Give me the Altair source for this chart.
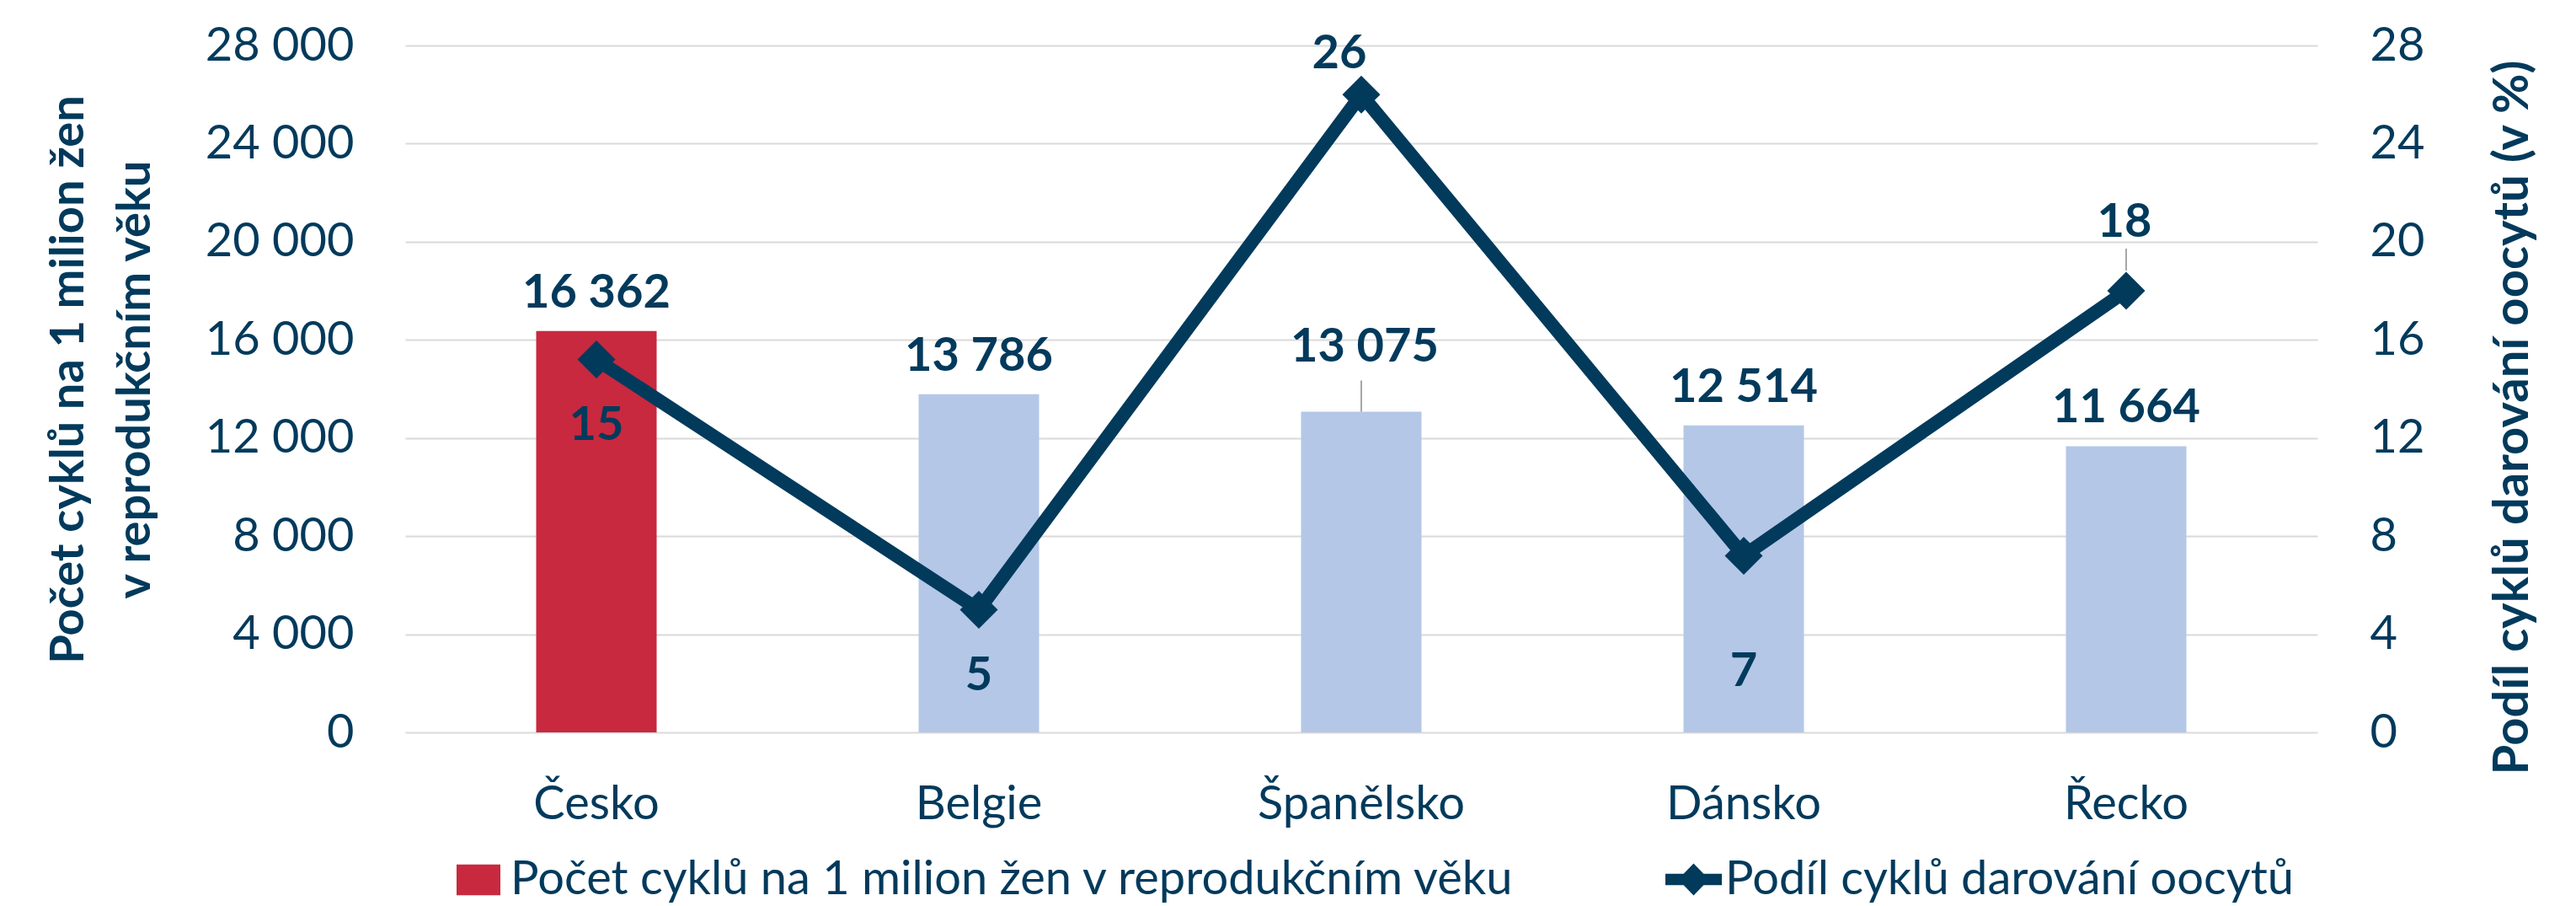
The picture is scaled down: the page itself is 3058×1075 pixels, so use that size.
import altair as alt
import pandas as pd

# ---- data ----
COUNTRIES = ["Česko", "Belgie", "Španělsko", "Dánsko", "Řecko"]
CYCLES = [16362, 13786, 13075, 12514, 11664]
DONOR_SHARE = [15.2, 5.0, 26.0, 7.2, 18.0]
LEFT_TICKS = [0, 4000, 8000, 12000, 16000, 20000, 24000, 28000]
RIGHT_TICKS = [0, 4, 8, 12, 16, 20, 24, 28]
BAR_SERIES = "Počet cyklů na 1 milion žen v reprodukčním věku"
LINE_SERIES = "Podíl cyklů darování oocytů"
LEFT_TITLE = ["Počet cyklů na 1 milion žen", "v reprodukčním věku"]
RIGHT_TITLE = "Podíl cyklů darování oocytů (v %)"

# ---- styles ----
NAVY = "#023A5C"
RED = "#C8293F"
LIGHT_BLUE = "#B4C7E7"
GRID = "#D9D9D9"
LEADER = "#A6A6A6"
FONT = "Lato"
FS = 56

df = pd.DataFrame({
    "country": COUNTRIES,
    "cycles": CYCLES,
    "share": DONOR_SHARE,
    "bar_series": [BAR_SERIES] * len(COUNTRIES),
    "line_series": [LINE_SERIES] * len(COUNTRIES),
})

base = alt.Chart(df)

x_enc = alt.X(
    "country:N", sort=COUNTRIES,
    scale=alt.Scale(paddingInner=0, paddingOuter=0),
    axis=alt.Axis(title=None, labelAngle=0, ticks=False, domain=False,
                  labelFont=FONT, labelFontSize=FS, labelColor=NAVY, labelLimit=1000,
                  labelBaseline="alphabetic", labelPadding=102, grid=False),
)

y_left_enc = alt.Y(
    "cycles:Q", scale=alt.Scale(domain=[0, 28000], nice=False, zero=True),
    axis=alt.Axis(
        values=LEFT_TICKS, labelExpr="replace(format(datum.value, ','), ',', ' ')",
        grid=True, gridColor=GRID, gridWidth=2, ticks=False, domain=False,
        labelFont=FONT, labelFontSize=FS, labelColor=NAVY, labelPadding=61,
        title=LEFT_TITLE, titleFont=FONT, titleFontSize=FS, titleFontWeight="bold",
        titleColor=NAVY, titleAngle=270, titleAlign="center", titleBaseline="middle",
        titleX=-400, titleY=396, titleLineHeight=79),
)

y_right_enc = alt.Y(
    "share:Q", scale=alt.Scale(domain=[0, 28], nice=False, zero=True),
    axis=alt.Axis(
        orient="right", values=RIGHT_TICKS, grid=False, ticks=False, domain=False,
        labelFont=FONT, labelFontSize=FS, labelColor=NAVY, labelPadding=62,
        title=RIGHT_TITLE, titleFont=FONT, titleFontSize=58, titleFontWeight="bold",
        titleColor=NAVY, titleAngle=270, titleAlign="center", titleBaseline="middle",
        titleX=232, titleY=441),
)

bars = base.mark_bar(size=143).encode(
    x=x_enc,
    y=y_left_enc,
    color=alt.condition(
        alt.datum.country == COUNTRIES[0],
        alt.Color("bar_series:N", scale=alt.Scale(domain=[BAR_SERIES], range=[RED]),
                  legend=alt.Legend(orient="none", legendX=59, legendY=962, title=None,
                                    symbolType="M-1,-0.7H1V0.7H-1Z", symbolSize=2704,
                                    symbolStrokeWidth=0, symbolOpacity=1, padding=0,
                                    labelFont=FONT, labelFontSize=FS, labelColor=NAVY,
                                    labelOffset=10, labelLimit=3000)),
        alt.value(LIGHT_BLUE),
    ),
)

bar_text = base.transform_calculate(label="replace(format(datum.cycles, ','), ',', ' ')")
txt_style = dict(font=FONT, fontSize=FS, fontWeight="bold", color=NAVY, baseline="alphabetic")

bar_labels = bar_text.transform_filter(alt.datum.country != COUNTRIES[2]).mark_text(
    dy=-28, **txt_style).encode(x=x_enc, y=y_left_enc, text="label:N")
spain_label = bar_text.transform_filter(alt.datum.country == COUNTRIES[2]).mark_text(
    dy=-59, dx=4, **txt_style).encode(x=x_enc, y=y_left_enc, text="label:N")
spain_leader = base.transform_filter(alt.datum.country == COUNTRIES[2]).mark_rule(
    color=LEADER, strokeWidth=2, y2Offset=-37).encode(x=x_enc, y=y_left_enc, y2="cycles:Q")

left_group = alt.layer(bars, spain_leader, bar_labels, spain_label)

line = base.mark_line(color=NAVY, strokeWidth=16).encode(x=x_enc, y=y_right_enc)

points = base.mark_point(shape="diamond", size=2025, filled=True, opacity=1).encode(
    x=x_enc,
    y=y_right_enc,
    fill=alt.Fill("line_series:N", scale=alt.Scale(domain=[LINE_SERIES], range=[NAVY]),
                  legend=alt.Legend(orient="none", legendX=1496, legendY=956, title=None,
                                    symbolType="M-1,-0.2H1V0.2H-1Z M-0.55,0L0,-0.57L0.55,0L0,0.57Z",
                                    symbolSize=4489, symbolStrokeWidth=0, symbolOpacity=1,
                                    padding=0, labelFont=FONT, labelFontSize=FS,
                                    labelColor=NAVY, labelOffset=4, labelLimit=3000)),
)

# label offsets (dx, dy) per point, as placed in the original
label_offsets = [(COUNTRIES[0], 0, 95), (COUNTRIES[1], 0, 96), (COUNTRIES[2], -26, -31),
                 (COUNTRIES[3], 0, 155), (COUNTRIES[4], -2, -64)]
line_labels = []
for c, dx, dy in label_offsets:
    line_labels.append(
        base.transform_filter(alt.datum.country == c)
        .transform_calculate(label="format(datum.share, '.0f')")
        .mark_text(dx=dx, dy=dy, **txt_style)
        .encode(x=x_enc, y=y_right_enc, text="label:N")
    )

greece_leader = base.transform_filter(alt.datum.country == COUNTRIES[4]).mark_rule(
    color=LEADER, strokeWidth=2, yOffset=-24, y2Offset=-50).encode(
    x=x_enc, y=y_right_enc, y2="share:Q")

right_group = alt.layer(line, greece_leader, points, *line_labels)

chart = alt.layer(left_group, right_group).resolve_scale(y="independent").properties(
    width=2270, height=815,
    autosize=alt.AutoSizeParams(type="none"),
    padding={"left": 481, "top": 54, "right": 307, "bottom": 206},
    background="white",
).configure_view(stroke=None)

chart.save("out.html", embed_options={"renderer": "svg", "actions": False})
